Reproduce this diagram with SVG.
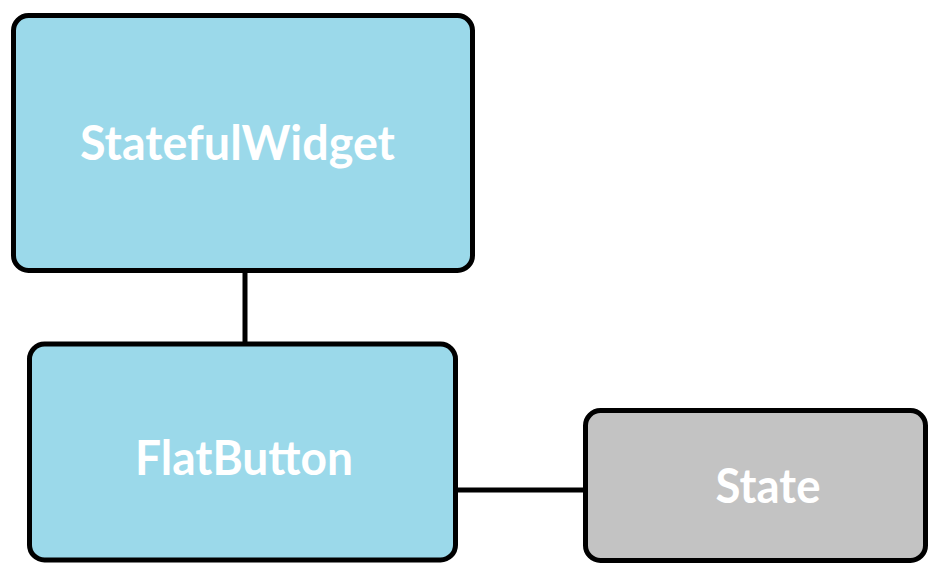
<svg xmlns="http://www.w3.org/2000/svg" width="928" height="563" viewBox="0 0 928 563">
<style>
.box{stroke:#000;stroke-width:5}
.blue{fill:#9BD9EA}
.gray{fill:#C3C3C3}
.lbl{font-family:Lato,"Open Sans","Liberation Sans",sans-serif;font-weight:bold;fill:#fff;text-anchor:middle;font-size:48px}
.edge{stroke:#000;stroke-width:5;fill:none}
</style>
<rect width="928" height="563" fill="#fff"/>
<g id="connectors">
<line class="edge" x1="245" y1="272" x2="245" y2="343"/>
<line class="edge" x1="457" y1="490" x2="585" y2="490"/>
</g>
<g id="StatefulWidget">
<rect class="box blue" x="13.5" y="15.5" width="459" height="255" rx="15"/>
<text class="lbl" x="237.5" y="160" textLength="315" lengthAdjust="spacingAndGlyphs">StatefulWidget</text>
</g>
<g id="FlatButton">
<rect class="box blue" x="29.5" y="344" width="426" height="216" rx="15"/>
<text class="lbl" x="244" y="475" textLength="218" lengthAdjust="spacingAndGlyphs">FlatButton</text>
</g>
<g id="State">
<rect class="box gray" x="585.5" y="410.5" width="340" height="150" rx="15"/>
<text class="lbl" x="768" y="503" textLength="105" lengthAdjust="spacingAndGlyphs">State</text>
</g>
</svg>
